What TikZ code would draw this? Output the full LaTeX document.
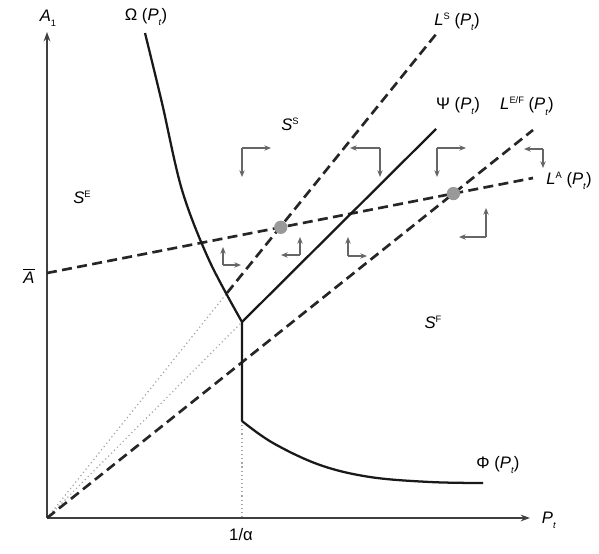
\documentclass[tikz,border=0pt]{standalone}
\usepackage{fontspec}
\setmainfont{Liberation Sans}
\usetikzlibrary{arrows.meta}
\newcommand\phaseL[3]{\draw[phase] (#1) -- (#2); \draw[phase] (#1) -- (#3);}
\begin{document}
\begin{tikzpicture}[x=0.75pt,y=-0.75pt,
  lbl/.style={inner sep=0pt, font=\fontsize{12.5}{14}\selectfont},
  axis/.style={line width=1.4pt, draw=black!75, -{Stealth[length=7pt,width=5pt]}},
  curve/.style={line width=1.7pt, draw=black!90},
  dashline/.style={line width=2pt, draw=black!85, dash pattern=on 7.5pt off 4pt},
  dotline/.style={line width=0.9pt, draw=black!35, dash pattern=on 0.9pt off 2.2pt},
  phase/.style={line width=0.9pt, draw=black!60, -{Stealth[length=5pt,width=4pt]}},
  eqdot/.style={circle, fill=black!40, inner sep=0pt, minimum size=10pt}]
\useasboundingbox (0,0) rectangle (599,553);

% key points
\coordinate (o) at (47,518);
\coordinate (ytop) at (47,32);
\coordinate (xend) at (530,518);
\coordinate (ls) at (437,33);
\coordinate (lsw) at (227,293);
\coordinate (lef) at (533,130);
\coordinate (abar) at (47,273);
\coordinate (la) at (533,178);
\coordinate (kink) at (242,322);
\coordinate (low) at (242,421);
\coordinate (psi) at (436,129);
\coordinate (ax) at (242,518);

% axes
\draw[axis] (o) -- (ytop);
\draw[axis] (o) -- (xend);

% dotted guides
\draw[dotline] (o) -- (lsw);
\draw[dotline] (o) -- (kink);
\draw[dotline] (low) -- (ax);

% dashed lines
\draw[dashline] (lsw) -- (ls);
\draw[dashline] (o) -- (lef);
\draw[dashline] (abar) -- (la);

% solid curves
\draw[curve, line join=round] plot[smooth, tension=0.55] coordinates {(145,33) (162,103) (182,190) (209,260) (242,322)} -- (low)
  plot[smooth, tension=0.6] coordinates {(242,421) (273,443) (320,465) (370,477) (430,482) (483,483)};
\draw[curve] (kink) -- (psi);

% equilibrium dots
\node[eqdot] (d1) at (intersection of o--ls and abar--la) {};
\node[eqdot] (d2) at (intersection of o--lef and abar--la) {};

% phase arrows
\coordinate (c1) at (242,148); \coordinate (h1) at (271,148); \coordinate (v1) at (242,177);
\coordinate (c2) at (380,148); \coordinate (h2) at (350,148); \coordinate (v2) at (380,177);
\coordinate (c3) at (437,148); \coordinate (h3) at (466,148); \coordinate (v3) at (437,177);
\coordinate (c4) at (486,237); \coordinate (h4) at (459,237); \coordinate (v4) at (486,208);
\coordinate (c5) at (300,255); \coordinate (h5) at (281,255); \coordinate (v5) at (300,237);
\coordinate (c6) at (348,256); \coordinate (h6) at (367,256); \coordinate (v6) at (348,237);
\coordinate (c7) at (223,265); \coordinate (h7) at (241,265); \coordinate (v7) at (223,247);
\coordinate (c8) at (543,149); \coordinate (h8) at (524,149); \coordinate (v8) at (543,168);
\phaseL{c1}{h1}{v1}
\phaseL{c2}{h2}{v2}
\phaseL{c3}{h3}{v3}
\phaseL{c4}{h4}{v4}
\phaseL{c5}{h5}{v5}
\phaseL{c6}{h6}{v6}
\phaseL{c7}{h7}{v7}
\phaseL{c8}{h8}{v8}

% labels
\node[lbl] (tA1) at (48,18) {\textit{A}\raisebox{-0.6ex}{\scriptsize 1}};
\node[lbl] (tOm) at (146,17) {Ω (\textit{P}\raisebox{-0.6ex}{\scriptsize\textit{t}})};
\node[lbl] (tLS) at (457,22) {\textit{L}\raisebox{0.7ex}{\scriptsize S} (\textit{P}\raisebox{-0.6ex}{\scriptsize\textit{t}})};
\node[lbl] (tPsi) at (458,106) {Ψ (\textit{P}\raisebox{-0.6ex}{\scriptsize\textit{t}})};
\node[lbl] (tLEF) at (527,106) {\textit{L}\raisebox{0.7ex}{\scriptsize E/F} (\textit{P}\raisebox{-0.6ex}{\scriptsize\textit{t}})};
\node[lbl] (tLA) at (569,181) {\textit{L}\raisebox{0.7ex}{\scriptsize A} (\textit{P}\raisebox{-0.6ex}{\scriptsize\textit{t}})};
\node[lbl] (tSS) at (290,124) {\textit{S}\raisebox{0.7ex}{\scriptsize S}};
\node[lbl] (tSE) at (82,197) {\textit{S}\raisebox{0.7ex}{\scriptsize E}};
\node[lbl] (tSF) at (433,322) {\textit{S}\raisebox{0.7ex}{\scriptsize F}};
\node[lbl] (tPhi) at (498,465) {Φ (\textit{P}\raisebox{-0.6ex}{\scriptsize\textit{t}})};
\node[lbl] (tAbar) at (29,276) {$\overline{\mbox{\textit{A}}}$};
\node[lbl] (tal) at (241,535) {1/α};
\node[lbl] (tPt) at (549,520) {\textit{P}\raisebox{-0.6ex}{\scriptsize\textit{t}}};
\end{tikzpicture}
\end{document}
